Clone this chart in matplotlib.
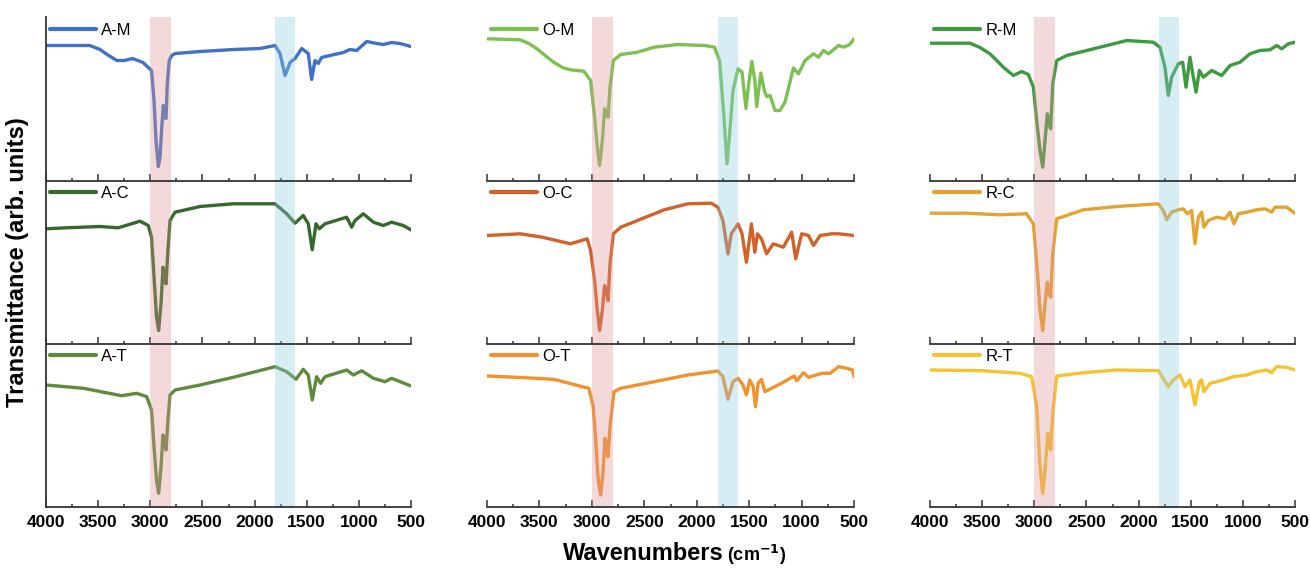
import matplotlib
matplotlib.use("Agg")
import matplotlib.pyplot as plt
from matplotlib.ticker import MultipleLocator

plt.rcParams['font.family'] = ['Liberation Sans', 'DejaVu Sans']

# ---------------- data (wavenumber, transmittance in arb. units) ----------------
am_wn = [4000, 3580, 3482, 3400, 3320, 3250, 3170, 3070, 2988, 2964, 2945, 2923, 2907, 2890, 2875, 2862, 2849,
         2837, 2818, 2795, 2760, 2520, 2200, 1948, 1804, 1756, 1708, 1660, 1612, 1548, 1485, 1453,
         1421, 1389, 1357, 1277, 1149, 1085, 1021, 925, 829, 766, 686, 606, 500]
am_t = [135, 135, 131, 125, 120, 120, 122, 118, 110, 80, 40, 14, 23, 53, 75, 63, 62,
        97, 120, 125, 127, 129, 131, 132, 135, 127, 105, 118, 122, 132, 127, 101,
        120, 117, 123, 125, 128, 131, 130, 139, 137, 136, 138, 137, 134]

ac_wn = [4000, 3802, 3482, 3307, 3099, 3019, 2988, 2962, 2940, 2920, 2897, 2878, 2862, 2849, 2833,
         2811, 2763, 2523, 2204, 1804, 1692, 1612, 1533, 1485, 1447, 1411, 1379, 1325, 1117, 1069,
         1037, 957, 861, 766, 686, 574, 500]
ac_t = [114.7, 115.7, 117, 115.7, 122.3, 118, 106.3, 63, 26.3, 13, 40, 76.3, 66.3, 59.7, 89.7,
        123, 131.3, 137, 139.7, 139.7, 129.7, 120.3, 128, 119.7, 93.7, 119.7, 114.7, 119.7, 126.3, 116.3,
        123, 129.7, 121.3, 118, 121.3, 118, 113.7]

at_wn = [4000, 3642, 3274, 3130, 3034, 2988, 2962, 2940, 2920, 2897, 2878, 2862, 2849, 2833, 2811,
         2763, 2523, 2204, 1804, 1692, 1603, 1533, 1485, 1447, 1405, 1367, 1325, 1117, 1053, 973,
         861, 749, 686, 500]
at_t = [122, 118.7, 111.3, 113.7, 110.3, 97, 57, 27, 13.7, 40.3, 72, 63.7, 57, 83.7, 112,
        117, 122, 129.7, 140.3, 135.3, 127.7, 137.7, 132, 107, 130.3, 123.7, 130.3, 137, 132, 136.3,
        128.7, 125.3, 128.7, 121]

om_wn = [4000, 3684, 3600, 3523, 3440, 3364, 3280, 3204, 3077, 3012, 2974, 2948, 2926, 2900, 2878, 2859, 2846, 2827,
         2795, 2725, 2565, 2405, 2181, 1926, 1830, 1782, 1740, 1711, 1686, 1654, 1606, 1568, 1530,
         1504, 1474, 1446, 1428, 1389, 1355, 1334, 1300, 1254, 1206, 1158, 1078, 1030, 967, 886,
         839, 791, 743, 647, 599, 540, 500]
om_t = [141.7, 140.7, 137, 131.7, 124.5, 118.3, 113, 110.7, 109.3, 100, 63.3, 33.3, 15, 40, 71.7, 66.7, 63.3, 93.3,
        120, 126, 128.3, 133.3, 136, 135, 133.3, 120, 63.3, 16.7, 46.7, 90, 111.7, 108.3, 72,
        96.7, 119, 100, 74, 107.5, 90, 84, 85, 70, 70, 78.3, 112.5, 106.7, 120, 126.7,
        123.3, 130, 126.7, 135, 133.3, 136, 141.7]

oc_wn = [4000, 3684, 3473, 3204, 3044, 3012, 2974, 2948, 2926, 2900, 2878, 2859, 2846, 2827, 2795,
         2725, 2565, 2309, 2085, 1862, 1798, 1750, 1702, 1670, 1606, 1568, 1526, 1478, 1446, 1421,
         1382, 1334, 1270, 1174, 1094, 1056, 999, 934, 886, 823, 711, 647, 500]
oc_t = [108, 109.7, 106.3, 99.7, 104.7, 93, 63, 33, 13, 33, 58, 53, 43, 79.7, 109.7,
        116.3, 123, 133.7, 139.7, 140.3, 136.3, 123, 89.7, 109.7, 119.7, 109.7, 81.3, 119.7, 91.3, 109.7,
        104.7, 89.7, 99.7, 96.3, 111.3, 84.7, 109.7, 108, 98, 108, 109.7, 109.7, 108]

ot_wn = [4000, 3715, 3364, 3029, 2987, 2964, 2939, 2916, 2894, 2875, 2859, 2846, 2827, 2789, 2725,
         2405, 2085, 1798, 1750, 1702, 1654, 1606, 1558, 1526, 1494, 1462, 1440, 1414, 1382, 1350,
         1286, 1190, 1126, 1069, 1046, 982, 934, 807, 727, 647, 567, 515, 500]
ot_t = [131, 129.7, 127.7, 118.7, 100.3, 67, 27, 12, 33.7, 68.7, 60.3, 50.3, 80.3, 115.3, 118.7,
        125.3, 132, 136, 130.3, 107.7, 125.3, 128.7, 122, 112, 127, 120.3, 100.3, 123.7, 127.7, 115.3,
        118.7, 123.7, 127.7, 131, 126.3, 134.3, 129.7, 133.7, 133.7, 140.3, 138.7, 137, 130.3]

rm_wn = [4000, 3616, 3520, 3425, 3360, 3297, 3201, 3121, 3057, 3009, 2977, 2945, 2919, 2897, 2875, 2859, 2843,
         2823, 2785, 2689, 2370, 2114, 1859, 1795, 1747, 1715, 1683, 1619, 1577, 1545, 1507, 1475,
         1449, 1417, 1379, 1299, 1203, 1123, 1027, 932, 836, 740, 676, 628, 564, 500]
rm_t = [137.3, 137.3, 133, 126.7, 120, 113.3, 105, 109, 106, 93.3, 60, 30, 13.3, 40, 66.7, 56.7, 51.7,
        96.7, 120, 125, 133.3, 140, 138.3, 133.3, 113.3, 85, 103.3, 116.7, 118.3, 93.3, 123.3, 103.3,
        88.3, 110, 103.3, 110, 105, 115, 118.3, 126.7, 130, 130.7, 135, 131.7, 136.7, 138.3]

rc_wn = [4000, 3648, 3329, 3073, 3009, 2971, 2945, 2919, 2897, 2875, 2859, 2843, 2823, 2785, 2689,
         2530, 2210, 1811, 1763, 1731, 1683, 1619, 1571, 1532, 1491, 1459, 1427, 1395, 1373, 1331,
         1251, 1171, 1123, 1085, 1043, 963, 868, 788, 724, 692, 580, 500]
rc_t = [130.3, 130.3, 128.7, 129.7, 119.7, 73, 33, 13, 39.7, 61.3, 49.7, 46.3, 89.7, 124.7, 128,
        133.7, 137, 139.7, 133, 123.7, 131.3, 133.7, 134.7, 129.7, 133, 99.7, 126.3, 131.3, 116.3, 123,
        126.3, 124.7, 131.3, 119.7, 129.7, 131.3, 133.7, 134.7, 131.3, 136.3, 136.3, 130.3]

rt_wn = [4000, 3495, 3137, 3025, 2977, 2945, 2919, 2894, 2871, 2856, 2843, 2823, 2785, 2530, 2210,
         1811, 1763, 1715, 1667, 1603, 1555, 1507, 1459, 1417, 1395, 1373, 1315, 1188, 1092, 963,
         868, 772, 724, 676, 580, 500]
rt_t = [137, 136.3, 133.7, 130.3, 100.3, 40.3, 13.7, 40.3, 73.7, 63.7, 57, 93.7, 131, 134.3, 137,
        136.3, 128.7, 120.3, 127, 132, 120.3, 127, 102, 125.3, 127, 115.3, 123.7, 127, 130.3, 132,
        135.3, 137, 134.3, 140.3, 139.7, 137]

labels = [["A-M", "O-M", "R-M"],
          ["A-C", "O-C", "R-C"],
          ["A-T", "O-T", "R-T"]]
series = {"A-M": (am_wn, am_t), "A-C": (ac_wn, ac_t), "A-T": (at_wn, at_t),
          "O-M": (om_wn, om_t), "O-C": (oc_wn, oc_t), "O-T": (ot_wn, ot_t),
          "R-M": (rm_wn, rm_t), "R-C": (rc_wn, rc_t), "R-T": (rt_wn, rt_t)}
colors = {"A-M": "#3f72c6", "A-C": "#35692c", "A-T": "#5e8a3e",
          "O-M": "#7cc052", "O-C": "#d0622a", "O-T": "#f2922e",
          "R-M": "#3d9a3f", "R-C": "#e3a332", "R-T": "#f6c232"}
xticks = [4000, 3500, 3000, 2500, 2000, 1500, 1000, 500]
pink_band = (2800, 3000)
blue_band = (1610, 1800)

# ---------------- layout ----------------
W, H = 1310, 571
fig = plt.figure(figsize=(W / 100, H / 100), dpi=100)
col_left = [46, 487, 930]
col_width = [365, 367, 365]
row_top = [17, 180, 343.5]
row_h = 163.5

for r in range(3):
    for c in range(3):
        l = col_left[c] / W
        b = 1 - (row_top[r] + row_h) / H
        ax = fig.add_axes([l, b, col_width[c] / W, row_h / H])
        ax.patch.set_visible(False)
        ax.set_zorder(10 - r)
        name = labels[r][c]
        wn, t = series[name]
        ax.plot(wn, t, color=colors[name], lw=2.4, label=name, zorder=2,
                solid_joinstyle='round', solid_capstyle='round')
        ax.axvspan(*pink_band, color='#dd9292', alpha=0.35, lw=0, zorder=3)
        ax.axvspan(*blue_band, color='#8dcce2', alpha=0.35, lw=0, zorder=3)
        ax.set_xlim(4000, 500)
        ax.set_ylim(0, 163.5)
        ax.set_yticks([])
        ax.set_xticks(xticks)
        ax.xaxis.set_minor_locator(MultipleLocator(250))
        ax.tick_params(axis='x', which='major', direction='in', length=5, width=1.1,
                       color='#333333', labelsize=12.5, pad=6)
        ax.tick_params(axis='x', which='minor', direction='in', length=2.5, width=1.1,
                       color='#333333')
        for s in ['top', 'right']:
            ax.spines[s].set_visible(False)
        ax.spines['left'].set_visible(c == 0)
        for s in ['left', 'bottom']:
            ax.spines[s].set_color('#333333')
            ax.spines[s].set_linewidth(1.3)
            ax.spines[s].set_zorder(4)
        if r < 2:
            ax.set_xticklabels([])
        else:
            for lab in ax.get_xticklabels():
                lab.set_fontweight('bold')
        leg = ax.legend(loc='upper left', bbox_to_anchor=(0.012, 0.965), frameon=False,
                        fontsize=12, handlelength=2.75, handletextpad=0.3,
                        borderpad=0, borderaxespad=0)
        for ln in leg.get_lines():
            ln.set_linewidth(3)

fig.text(18 / W, 1 - 262 / H, "Transmittance (arb. units)", rotation=90,
         ha='center', va='center', fontsize=17, fontweight='bold')
fig.text(724 / W, 1 - 553 / H, "Wavenumbers", ha='right', va='center',
         fontsize=17, fontweight='bold')
fig.text(727 / W, 1 - 555 / H, r"(cm$^{\mathbf{-1}}$)", ha='left', va='center',
         fontsize=13, fontweight='bold')

fig.savefig("out.png", dpi=100)
